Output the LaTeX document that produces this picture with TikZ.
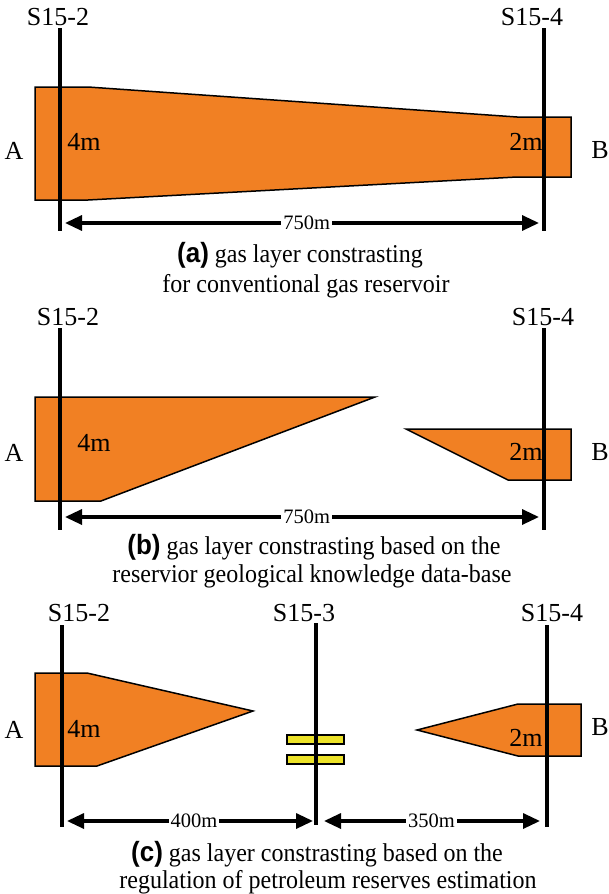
\documentclass[tikz,border=0pt]{standalone}
\usepackage{fontspec}
\setmainfont{Liberation Serif}
\newfontfamily\capsans{Liberation Sans}
\usetikzlibrary{arrows.meta,positioning}
\definecolor{gasorange}{RGB}{241,128,35}
\definecolor{sealyellow}{RGB}{236,226,40}
\tikzset{>={Triangle[length=17pt,width=15pt]}}
\tikzset{
  well/.style={line width=4.2pt},
  layer/.style={draw=black, line width=1.5pt, fill=gasorange, line join=miter},
  seal/.style={draw=black, line width=1.5pt, fill=sealyellow},
  dist/.style={<->, line width=3.3pt, shorten <=5pt, shorten >=5pt},
  distlbl/.style={fill=white, inner sep=2pt, font=\fontsize{20.5}{20}\selectfont},
  wlbl/.style={font=\fontsize{26}{26}\selectfont, inner sep=0pt},
  caplbl/.style={font=\fontsize{24}{24}\selectfont, inner sep=0pt, anchor=base},
}
\newcommand{\captag}[1]{{\capsans\bfseries\fontsize{26}{26}\selectfont(#1)}}
\newcommand{\captext}[1]{\scalebox{1}[1.07]{#1}}

\begin{document}
\begin{tikzpicture}[x=1pt,y=-1pt]
\useasboundingbox (0,0) rectangle (609,894);

% (a)
\filldraw[layer] (35,87) -- (88,87) -- (517,117) -- (571,117) -- (571,177)
  -- (517,177) -- (88,200) -- (35,200) -- cycle;
\node[wlbl] (aA) at (14,151) {A};
\node[wlbl] (aB) at (600,150) {B};
\node[wlbl] (a4m) at (84,142) {4m};
\node[wlbl] (a2m) at (526,142) {2m};
\node[wlbl] (a2) at (58,17) {S15-2};
\node[wlbl] (a4) at (532,17) {S15-4};
\coordinate (a2t) at (60,28);  \coordinate (a2b) at (60,231);
\coordinate (a4t) at (544,28); \coordinate (a4b) at (544,231);
\draw[well] (a2t) -- (a2b);
\draw[well] (a4t) -- (a4b);
\coordinate (adl) at (60,223); \coordinate (adr) at (544,223);
\draw[dist] (adl) -- (adr) node[distlbl, pos=0.51] (ad) {750m};
\node[caplbl] (capa1) at (300,262) {\captext{\captag{a} gas layer constrasting}};
\node[caplbl] (capa2) at (306,292) {\captext{for conventional gas reservoir}};

% (b)
\filldraw[layer] (35,397) -- (375,397) -- (101,501) -- (35,501) -- cycle;
\filldraw[layer] (406,429) -- (571,429) -- (571,480) -- (508,480) -- cycle;
\node[wlbl] (bA) at (14,453) {A};
\node[wlbl] (bB) at (600,452) {B};
\node[wlbl] (b4m) at (94,443) {4m};
\node[wlbl] (b2m) at (526,452) {2m};
\node[wlbl] (b2) at (68,317) {S15-2};
\node[wlbl] (b4) at (543,317) {S15-4};
\coordinate (b2t) at (60,328);  \coordinate (b2b) at (60,530);
\coordinate (b4t) at (544,328); \coordinate (b4b) at (544,530);
\draw[well] (b2t) -- (b2b);
\draw[well] (b4t) -- (b4b);
\coordinate (bdl) at (60,517); \coordinate (bdr) at (544,517);
\draw[dist] (bdl) -- (bdr) node[distlbl, pos=0.51] (bd) {750m};
\node[caplbl] (capb1) at (314,554) {\captext{\captag{b} gas layer constrasting based on the}};
\node[caplbl] (capb2) at (312,582) {\captext{reservior geological knowledge data-base}};

% (c)
\filldraw[layer] (35,673) -- (87,673) -- (253,711) -- (97,766) -- (35,766) -- cycle;
\filldraw[layer] (417,730) -- (518,704) -- (581,704) -- (581,756) -- (518,756) -- cycle;
\draw[seal] (287,735) rectangle (344,744);
\draw[seal] (287,755) rectangle (344,764);
\node[wlbl] (cA) at (14,730) {A};
\node[wlbl] (cB) at (600,727) {B};
\node[wlbl] (c4m) at (84,729) {4m};
\node[wlbl] (c2m) at (526,738) {2m};
\node[wlbl] (c2) at (79,613) {S15-2};
\node[wlbl] (c3) at (304,613) {S15-3};
\node[wlbl] (c4) at (552,613) {S15-4};
\coordinate (c2t) at (62,625);  \coordinate (c2b) at (62,827);
\coordinate (c3t) at (316,623); \coordinate (c3b) at (316,825);
\coordinate (c4t) at (547,625); \coordinate (c4b) at (547,827);
\draw[well] (c2t) -- (c2b);
\draw[well] (c3t) -- (c3b);
\draw[well] (c4t) -- (c4b);
\coordinate (cdl) at (62,821); \coordinate (cdm) at (316,821); \coordinate (cdr) at (547,821);
\draw[dist, shorten >=3pt] (cdl) -- (cdm) node[distlbl, pos=0.52] (cd1) {400m};
\draw[dist, shorten <=8pt, shorten >=7pt] (cdm) -- (cdr) node[distlbl, pos=0.5] (cd2) {350m};
\node[caplbl] (capc1) at (317,861) {\captext{\captag{c} gas layer constrasting based on the}};
\node[caplbl] (capc2) at (328,888) {\captext{regulation of petroleum reserves estimation}};
\end{tikzpicture}
\end{document}
